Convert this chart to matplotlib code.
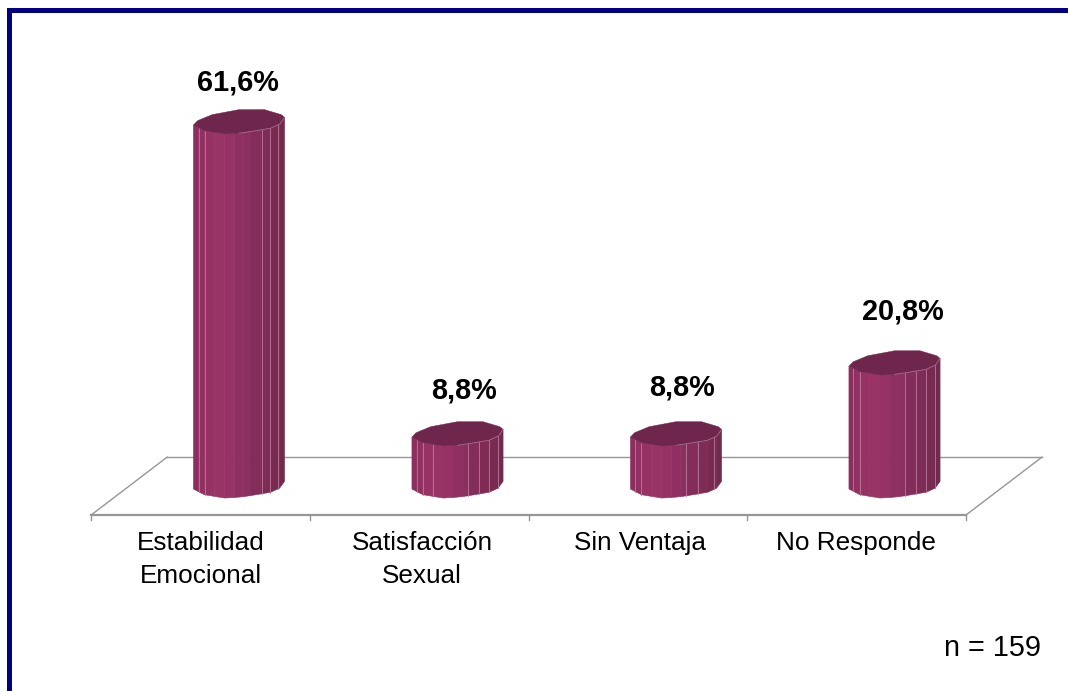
import numpy as np
import matplotlib
matplotlib.use("Agg")
import matplotlib.pyplot as plt
from matplotlib.patches import Polygon, Rectangle

categorias = ["Estabilidad\nEmocional", "Satisfacción\nSexual", "Sin Ventaja", "No Responde"]
valores = [61.6, 8.8, 8.8, 20.8]
etiquetas = ["61,6%", "8,8%", "8,8%", "20,8%"]
nota = "n = 159"

W, H = 1068, 691
plt.rcParams['font.family'] = ['Liberation Sans', 'DejaVu Sans']

fig = plt.figure(figsize=(W / 100, H / 100), dpi=100)
ax = fig.add_axes([0, 0, 1, 1])

# escala: categoria 0 en px 239, 218.5 px por categoria; 0% en px 485.5, 5.91 px por %
ax.set_xlim((0 - 239) / 218.5, (W - 239) / 218.5)
ax.set_ylim((485.5 - H) / 5.91, 485.5 / 5.91)
ax.axis("off")

# marco azul
fig.add_artist(Rectangle((7 / W, 0), 4.5 / W, 1 - 8 / H, transform=fig.transFigure, color="#000080", lw=0))
fig.add_artist(Rectangle((7 / W, 1 - 12.5 / H), 1, 4.5 / H, transform=fig.transFigure, color="#000080", lw=0))

# piso
gris = "#969696"
x_izq, x_der = -0.677, 3.327
prof = 0.348
y_frente, y_fondo = -5.0, 4.8
ax.plot([x_izq + prof, x_der + prof], [y_fondo, y_fondo], color=gris, lw=1, zorder=1)
ax.plot([x_izq, x_izq + prof], [y_frente, y_fondo], color=gris, lw=1, zorder=1)
ax.plot([x_der, x_der + prof], [y_frente, y_fondo], color=gris, lw=1, zorder=1)
ax.plot([x_izq, x_der], [y_frente, y_frente], color=gris, lw=1.6, zorder=1)
for k in range(5):
    xt = x_izq + k * (x_der - x_izq) / 4
    ax.plot([xt, xt], [y_frente, y_frente - 0.9], color=gris, lw=1, zorder=1)

# contorno del cilindro: ancho relativo y desplazamiento en %
a = 0.2085
borde_f = [-1, -0.76, -0.32, 0, 0.23, 0.69, 0.9, 1]
borde_y = [-0.6, -1.56, -2.12, -2.0, -1.74, -1.16, -0.42, 0.7]
atras_f = [1, 0.93, 0.56, 0, -0.59, -0.91, -1]
atras_y = [0.7, 1.15, 2.0, 2.0, 1.15, 0.13, -0.6]

frac = np.array([-1, -0.89, -0.76, -0.54, -0.32, -0.1, 0.1, 0.23, 0.48, 0.7, 0.89, 1])
tonos = ["#8c2f60", "#92315f", "#973265", "#9a3366", "#963264", "#903062",
         "#8a2f5e", "#842d5a", "#7e2b55", "#782a51", "#702a4d"]
tapa = "#6e264c"
lineas = [[-0.87, -0.74, 0.5, 0.67, 0.85],
          [-0.89, -0.76, -0.54, 0.23, 0.48, 0.7, 0.89],
          [-0.89, -0.76, 0.22, 0.49, 0.83],
          [-0.9, -0.76, 0.23, 0.47, 0.69, 0.89]]


def frente(f):
    return np.interp(f, borde_f, borde_y)


for i, v in enumerate(valores):
    for k in range(len(tonos)):
        f0, f1 = frac[k], frac[k + 1]
        pts = [(i + a * f0, frente(f0)), (i + a * f1, frente(f1)),
               (i + a * f1, v + frente(f1)), (i + a * f0, v + frente(f0))]
        ax.add_patch(Polygon(pts, closed=True, fc=tonos[k], ec=tonos[k], lw=0.4, zorder=3))
    for f in lineas[i]:
        ax.plot([i + a * f, i + a * f], [frente(f), v + frente(f)], color="#b87a9c", lw=0.6, zorder=4)
    arriba = [(i + a * f, v + y) for f, y in zip(borde_f, borde_y)]
    arriba += [(i + a * f, v + y) for f, y in zip(atras_f, atras_y)]
    ax.add_patch(Polygon(arriba, closed=True, fc=tapa, ec=tapa, lw=0.3, zorder=5))
    ax.plot([i + a * f for f in borde_f[3:]], [v + y for y in borde_y[3:]], color="#a86c8c", lw=0.6, zorder=6)

# textos
x_etq = [238, 464, 682, 903]
y_etq = [82.3, 390.3, 387.3, 311.3]
for xp, yp, t in zip(x_etq, y_etq, etiquetas):
    fig.text(xp / W, 1 - yp / H, t, ha="center", va="center", fontsize=20.8, fontweight="bold", color="black")

x_cat = [201, 422, 640, 856]
for xp, t in zip(x_cat, categorias):
    fig.text(xp / W, 1 - 531 / H, t, ha="center", va="top", fontsize=18.8, color="black", linespacing=1.47)

fig.text(1041 / W, 1 - 648.5 / H, nota, ha="right", va="center", fontsize=20.8, color="black")

fig.savefig("out.png", dpi=100)
